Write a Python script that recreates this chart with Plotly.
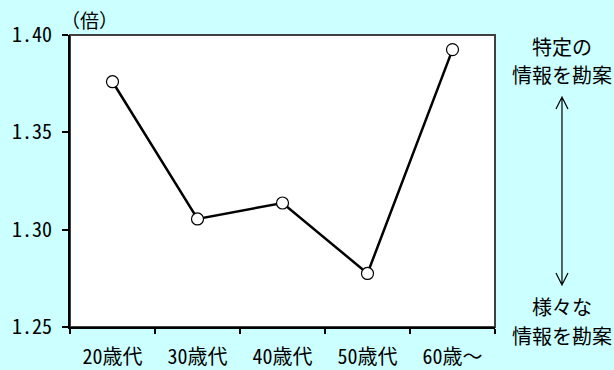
import plotly.graph_objects as go

# Age groups and the ratio for each
age_groups = ["20歳代", "30歳代", "40歳代", "50歳代", "60歳～"]
ratio = [1.376, 1.3055, 1.3137, 1.2775, 1.3925]

y_ticks = [1.25, 1.30, 1.35, 1.40]
y_tick_text = ["1.25", "1.30", "1.35", "1.40"]

FONT = "Noto Sans Mono CJK JP, Noto Sans CJK JP"
BG = "#CCFFFF"

fig = go.Figure()
fig.add_trace(go.Scatter(
    x=age_groups, y=ratio, mode="lines+markers",
    line=dict(color="black", width=2.5),
    marker=dict(size=12, color="white", line=dict(color="black", width=1.2)),
    cliponaxis=False, showlegend=False,
))

# Plot-area frame (top and right edges)
fig.add_shape(type="rect", xref="paper", yref="paper", x0=0, x1=1, y0=0, y1=1,
              line=dict(color="#404040", width=2), layer="below")

# Double-headed vertical arrow with open heads, right of the plot
ax_x, y_top, y_bot = 1.1576, 0.7877, 0.1438
hx, hy = 0.0141, 0.041
arrow_path = (
    f"M{ax_x},{y_top} L{ax_x},{y_bot} "
    f"M{ax_x - hx},{y_top - hy} L{ax_x},{y_top} L{ax_x + hx},{y_top - hy} "
    f"M{ax_x - hx},{y_bot + hy} L{ax_x},{y_bot} L{ax_x + hx},{y_bot + hy}"
)
fig.add_shape(type="path", xref="paper", yref="paper", path=arrow_path,
              line=dict(color="black", width=1.2))

side_lines = [
    ("特定の", 0.9623),
    ("情報を勘案", 0.8664),
    ("様々な", 0.0685),
    ("情報を勘案", -0.0274),
]
side_notes = [
    dict(text=t, xref="paper", yref="paper", x=ax_x, y=yy,
         xanchor="center", yanchor="middle", showarrow=False,
         font=dict(family=FONT, size=20))
    for t, yy in side_lines
]

fig.update_layout(
    width=614, height=370,
    margin=dict(l=70, r=119, t=35, b=43),
    paper_bgcolor=BG, plot_bgcolor="white",
    font=dict(family=FONT, size=18, color="black"),
    xaxis=dict(
        type="category", range=[-0.5, 4.5], tickson="boundaries",
        ticks="outside", ticklen=5, tickwidth=1.5, tickcolor="black",
        showline=True, linecolor="black", linewidth=2, automargin=False,
        showgrid=False, zeroline=False, ticklabelstandoff=11,
        tickfont=dict(family=FONT, size=20),
    ),
    yaxis=dict(
        range=[1.25, 1.40], tickvals=y_ticks, ticktext=y_tick_text,
        ticks="outside", ticklen=6, tickwidth=1.5, tickcolor="black",
        showline=True, linecolor="black", linewidth=2, automargin=False,
        showgrid=False, zeroline=False, ticklabelstandoff=6,
        tickfont=dict(family=FONT, size=20),
    ),
    annotations=[
        dict(text="（倍）", xref="paper", yref="paper", x=-0.025, y=1.0,
             xanchor="left", yanchor="bottom", yshift=0, showarrow=False,
             font=dict(family=FONT, size=19)),
    ] + side_notes,
)

fig.write_html("out.html")
